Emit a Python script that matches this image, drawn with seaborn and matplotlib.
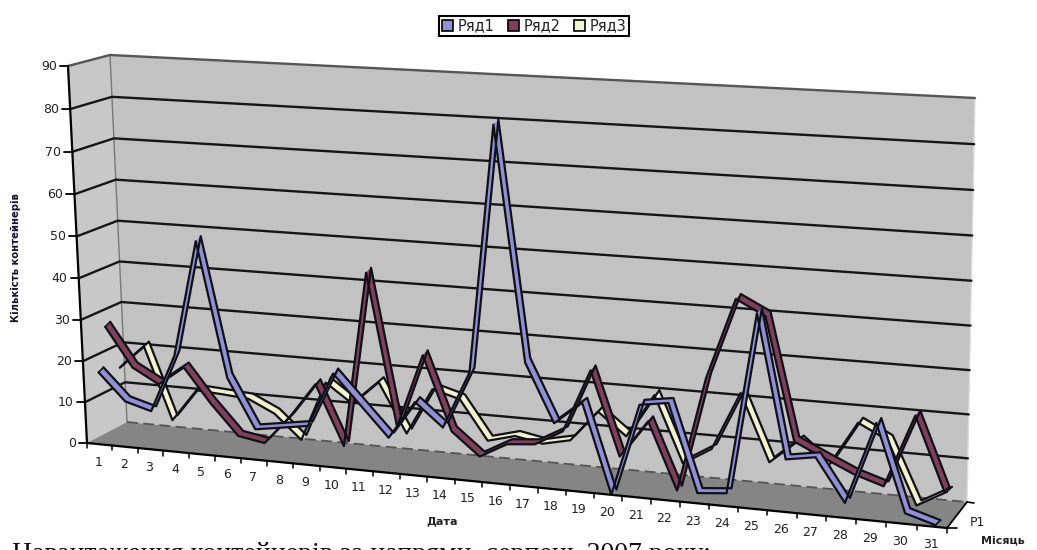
import numpy as np
import pandas as pd
import matplotlib
matplotlib.use('Agg')
import matplotlib.pyplot as plt
import matplotlib.transforms as mtransforms
from matplotlib.patches import Patch
import seaborn as sns

days = list(range(1, 32))
ryad1 = [18.3, 11.8, 10, 24, 51.6, 19.7, 8, 9, 10, 23, 16, 9, 18, 12.6, 26, 82.7,
         29.4, 16, 21.3, 0.7, 22, 23, 3, 3.6, 44.8, 12.6, 13.7, 4, 22.6, 3, 1]
ryad2 = [29.5, 20.2, 16.7, 21.3, 13.1, 6, 4.9, 11.8, 20.1, 6, 47.2, 11.8, 29.1, 11.9, 6.6, 10.1,
         10.7, 14.3, 28.9, 9.7, 18.4, 3.1, 29.4, 47.6, 44.3, 16.8, 13.7, 10.7, 8.6, 25, 8.7]
ryad3 = [19.9, 25.5, 8.3, 16.1, 15.7, 15.2, 12.2, 6.5, 20.7, 16.2, 21.9, 10.4, 21.4, 19.6, 10.5, 12.2,
         11, 12.4, 19.6, 14.5, 24.5, 9.5, 13.4, 26.7, 11.6, 17.1, 11.8, 22.3, 19, 5, 8.7]
series_names = ['Ряд1', 'Ряд2', 'Ряд3']
value_ticks = list(range(0, 100, 10))


class WallTransform(mtransforms.Transform):
    """Perspective map from (day, value) on a chart wall to picture pixels"""
    input_dims = 2
    output_dims = 2

    def __init__(self, corners):
        super().__init__()
        src = [(0.5, 0), (31.5, 0), (31.5, 90), (0.5, 90)]
        rows, rhs = [], []
        for (u, v), (x, y) in zip(src, corners):
            rows.append([u, v, 1, 0, 0, 0, -u * x, -v * x])
            rows.append([0, 0, 0, u, v, 1, -u * y, -v * y])
            rhs += [x, y]
        self.m = np.append(np.linalg.solve(np.array(rows, float), np.array(rhs, float)), 1).reshape(3, 3)

    def transform_non_affine(self, values):
        pts = np.column_stack([values, np.ones(len(values))]) @ self.m.T
        return pts[:, :2] / pts[:, 2:]


sns.set_theme(style='white')
plt.rcParams['font.family'] = ['DejaVu Sans']

fig = plt.figure(figsize=(10.37, 5.5), dpi=100)
ax = fig.add_axes([0, 0, 1, 1])
ax.set_xlim(0, 1037)
ax.set_ylim(550, 0)
ax.axis('off')

front = WallTransform([(87, 443), (947, 528), (956, 114), (68, 66)])
back = WallTransform([(127, 422), (967, 502), (975, 98), (110, 55)])


def px(wall, u, v):
    return wall.transform(np.column_stack([np.atleast_1d(u), np.atleast_1d(v)]))


# walls and floor
back_poly = px(back, [0.5, 31.5, 31.5, 0.5], [0, 0, 90, 90])
side_poly = np.vstack([px(front, [0.5, 0.5], [0, 90]), px(back, [0.5, 0.5], [90, 0])])
floor_poly = np.vstack([px(front, [0.5, 31.5], [0, 0]), px(back, [31.5, 0.5], [0, 0])])
ax.fill(*back_poly.T, color='#c2c2c2', lw=0, zorder=1)
ax.fill(*side_poly.T, color='#c8c8c8', lw=0, zorder=1)
ax.fill(*floor_poly.T, color='#858585', lw=0, zorder=1)
ax.plot(*px(back, [0.5, 0.5], [0, 90]).T, color='#777777', lw=1, zorder=2)
ax.plot(*px(back, [31.5, 31.5], [0, 90]).T, color='#dddddd', lw=1, zorder=2)

# gridlines run along the side wall then the back wall
for v in value_ticks[1:]:
    grid = np.vstack([px(front, 0.5, v), px(back, [0.5, 31.5], [v, v])])
    col = '#555555' if v == 90 else '#151515'
    ax.plot(*grid.T, color=col, lw=1.7, zorder=2)
ax.plot(*px(back, [0.5, 31.5], [0, 0]).T, color='#555555', lw=1.3, ls=(0, (6, 3)), zorder=2)

# axes lines, ticks, tick labels
ax.plot(*px(front, [0.5, 0.5], [0, 90]).T, color='black', lw=1.6, zorder=12)
ax.plot(*px(front, [0.5, 31.5], [0, 0]).T, color='black', lw=1.6, zorder=12)
for v in value_ticks:
    x0, y0 = px(front, 0.5, v)[0]
    ax.plot([x0 - 8, x0], [y0, y0], color='black', lw=1.3, zorder=12)
    ax.text(x0 - 11, y0 + 0.5, str(v), ha='right', va='center', fontsize=9, color='#222222')
for d in range(0, 32):
    x0, y0 = px(front, d + 0.5, 0)[0]
    ax.plot([x0, x0], [y0, y0 + 5], color='black', lw=1.1, zorder=12)
for d in days:
    x0, y0 = px(front, d, 0)[0]
    ax.text(x0 - 1, y0 + 18, str(d), ha='center', va='center', fontsize=9, color='#222222')

# depth axis on the right
fr = px(front, 31.5, 0)[0]
bk = px(back, 31.5, 0)[0]
ax.plot([fr[0], bk[0]], [fr[1], bk[1]], color='black', lw=1.3, zorder=12)
ax.plot([fr[0], fr[0] + 10], [fr[1], fr[1]], color='black', lw=1.2, zorder=12)
ax.plot([bk[0], bk[0] + 7], [bk[1], bk[1] + 1], color='black', lw=1.2, zorder=12)
ax.text(970, 523, 'Р1', ha='left', va='center', fontsize=9, color='#222222')

ax.text(442, 521, 'Дата', ha='center', va='center', fontsize=8, fontweight='bold', color='#222222')
ax.text(1003, 541, 'Місяць', ha='center', va='center', fontsize=8, fontweight='bold', color='#222222')
ax.text(16, 258, 'Кількість контейнерів', rotation=90, ha='center', va='center',
        fontsize=7.2, fontweight='bold', color='#111133')
ax.text(12, 561, 'Навантаження контейнерів за напрями, серпень 2007 року;', ha='left', va='baseline',
        fontsize=20, family='Liberation Serif', color='#111111')

# ribbons, back series first
all_values = [ryad3, ryad2, ryad1]
faces = ['#f2f2cc', '#80405c', '#9090d4']
shifts = [np.linspace(1.05, 0.55, 31), np.linspace(0.55, 0.47, 31), np.linspace(0.2, 0.2, 31)]
zorders = [4, 6, 8]
depth = np.array([2.5, -2.5])
for values, face, shift, z in zip(all_values, faces, shifts, zorders):
    df = pd.DataFrame({'day': np.array(days) + shift, 'value': values})
    pts = px(front, df['day'].values, df['value'].values)
    for i in range(len(pts) - 1):
        quad = np.array([pts[i] - depth, pts[i + 1] - depth, pts[i + 1] + depth, pts[i] + depth])
        ax.fill(*quad.T, color=face, lw=0, zorder=z)
    for sign in (-1, 1):
        edge_tr = front + mtransforms.Affine2D().translate(*(sign * depth)) + ax.transData
        sns.lineplot(data=df, x='day', y='value', ax=ax, color='#101018', lw=1.6, estimator=None,
                     sort=False, legend=False, transform=edge_tr, zorder=z + 1)
    for p in (pts[0], pts[-1]):
        ax.plot([p[0] - depth[0], p[0] + depth[0]], [p[1] - depth[1], p[1] + depth[1]],
                color='#101018', lw=1.2, zorder=z + 1)

ax.set_xlim(0, 1037)
ax.set_ylim(550, 0)
ax.set_xlabel('')
ax.set_ylabel('')

handles = [Patch(facecolor=c, edgecolor='black', lw=1.2) for c in ['#9090d4', '#80405c', '#f2f2cc']]
leg = ax.legend(handles, series_names, ncol=3, loc='center', bbox_to_anchor=(534 / 1037, 1 - 26 / 550),
                fontsize=10.5, frameon=True, fancybox=False, edgecolor='black', framealpha=1,
                handlelength=0.8, handleheight=0.8, handletextpad=0.3, columnspacing=0.9,
                borderpad=0.2, borderaxespad=0, labelcolor='#222222')
leg.get_frame().set_linewidth(1.5)

plt.savefig('out.png', dpi=100)
plt.close()
